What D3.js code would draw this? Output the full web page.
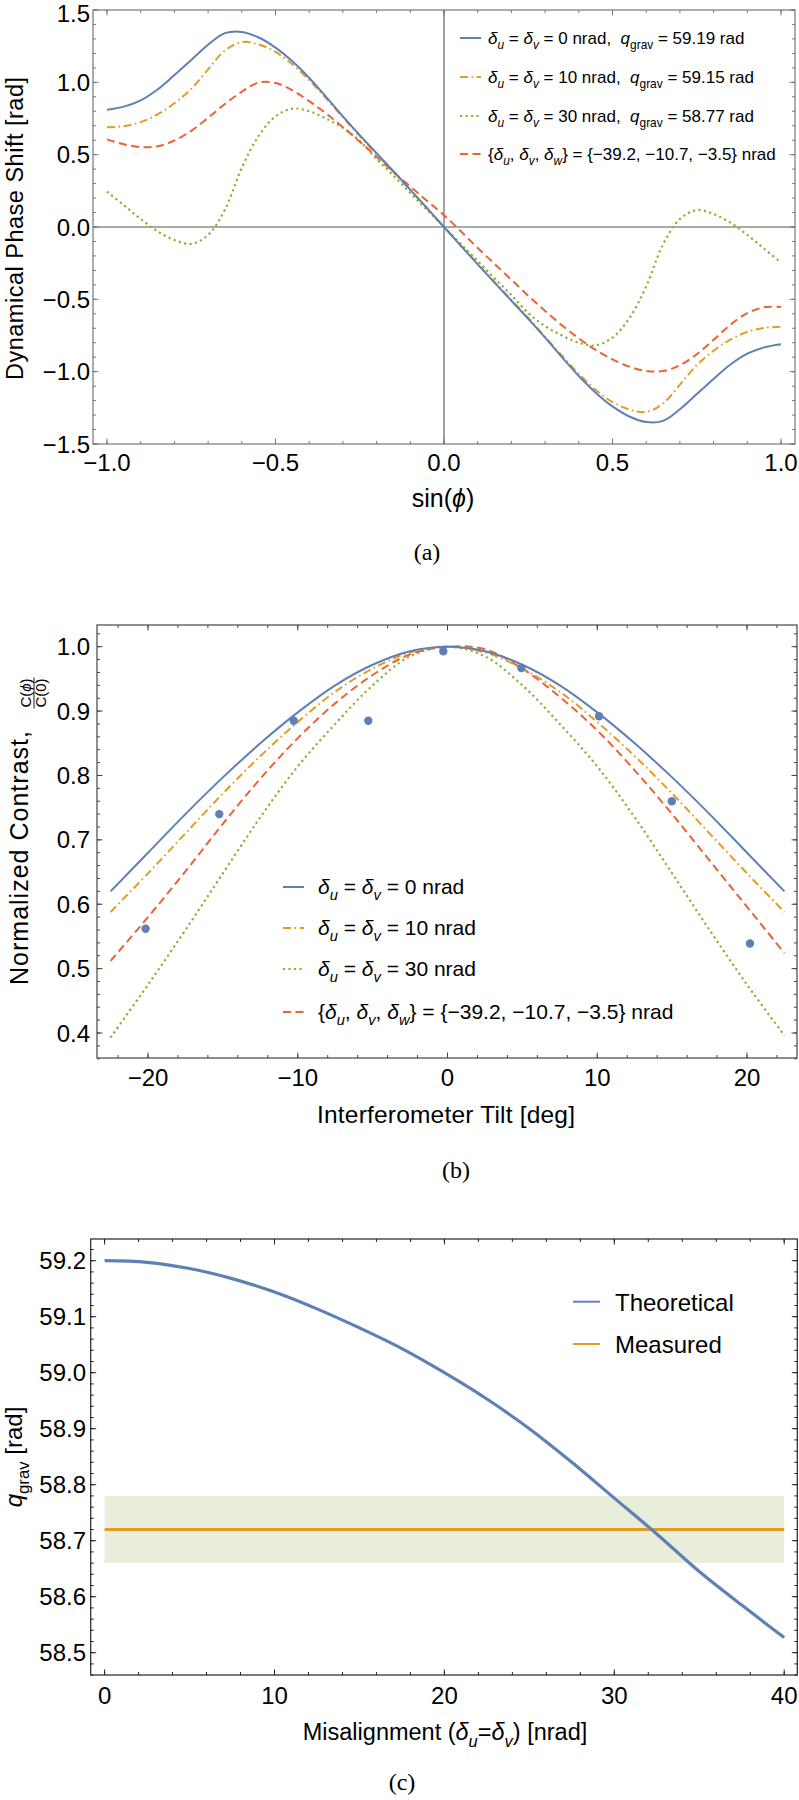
<!DOCTYPE html>
<html><head><meta charset="utf-8">
<script src="https://cdn.jsdelivr.net/npm/d3@7"></script>
<style>
body{margin:0;background:#fff;}
svg text{font-family:"Liberation Sans",Arial,Helvetica,sans-serif;fill:#000;white-space:pre;}
svg text.serif{font-family:"Liberation Serif","Times New Roman",serif;}
</style></head><body>
<svg id="fig" width="799" height="1800" xmlns="http://www.w3.org/2000/svg"></svg>
<script>
// ---------------- DATA ----------------
// Panel (a): dynamical phase shift vs sin(phi)
const aX = [-1.00,-0.95,-0.90,-0.85,-0.80,-0.75,-0.70,-0.65,-0.60,-0.55,-0.50,-0.45,-0.40,-0.35,-0.30,-0.25,-0.20,-0.15,-0.10,-0.05,0.00,0.05,0.10,0.15,0.20,0.25,0.30,0.35,0.40,0.45,0.50,0.55,0.60,0.65,0.70,0.75,0.80,0.85,0.90,0.95,1.00];
const aBlue = [0.810,0.832,0.875,0.950,1.050,1.155,1.260,1.340,1.348,1.310,1.240,1.145,1.030,0.900,0.765,0.635,0.510,0.385,0.258,0.130,0.000,-0.130,-0.258,-0.385,-0.510,-0.635,-0.765,-0.900,-1.030,-1.145,-1.240,-1.310,-1.348,-1.340,-1.260,-1.155,-1.050,-0.950,-0.875,-0.832,-0.810];
const aOrange = [0.690,0.697,0.725,0.778,0.855,0.955,1.090,1.220,1.278,1.262,1.210,1.125,1.015,0.890,0.758,0.628,0.503,0.380,0.254,0.127,0.000,-0.127,-0.254,-0.380,-0.503,-0.628,-0.758,-0.890,-1.015,-1.125,-1.210,-1.262,-1.278,-1.220,-1.090,-0.955,-0.855,-0.778,-0.725,-0.697,-0.690];
const aGreen = [0.245,0.150,0.055,-0.030,-0.090,-0.117,-0.055,0.120,0.410,0.630,0.765,0.818,0.800,0.750,0.685,0.595,0.470,0.355,0.235,0.118,0.000,-0.118,-0.235,-0.355,-0.470,-0.595,-0.685,-0.750,-0.800,-0.818,-0.765,-0.630,-0.410,-0.120,0.055,0.117,0.090,0.030,-0.055,-0.150,-0.245];
const aRed = [0.606,0.572,0.552,0.558,0.598,0.665,0.755,0.850,0.935,0.998,0.995,0.945,0.870,0.785,0.690,0.590,0.485,0.380,0.280,0.180,0.082,-0.030,-0.145,-0.255,-0.365,-0.475,-0.580,-0.680,-0.770,-0.850,-0.915,-0.965,-0.995,-0.995,-0.955,-0.880,-0.780,-0.675,-0.595,-0.555,-0.553];
const aXTicks = [-1, -0.5, 0, 0.5, 1];
const aXTickLabels = ["\u22121.0", "\u22120.5", "0.0", "0.5", "1.0"];
const aYTicks = [-1.5, -1, -0.5, 0, 0.5, 1, 1.5];
const aYTickLabels = ["\u22121.5", "\u22121.0", "\u22120.5", "0.0", "0.5", "1.0", "1.5"];
const aLegendValues = ["0", "10", "30"];
const aLegendQ = ["59.19", "59.15", "58.77"];

// Panel (b): normalized contrast vs interferometer tilt
const bX = [-22.5,-20,-17.5,-15,-12.5,-10,-7.5,-5,-2.5,0,2.5,5,7.5,10,12.5,15,17.5,20,22.5];
const bBlue = [0.620,0.680,0.740,0.797,0.850,0.898,0.940,0.972,0.993,1.000,0.993,0.972,0.940,0.898,0.850,0.797,0.740,0.680,0.620];
const bOrange = [0.588,0.648,0.710,0.772,0.830,0.883,0.930,0.966,0.991,1.000,0.991,0.966,0.930,0.883,0.830,0.772,0.710,0.648,0.588];
const bGreen = [0.393,0.475,0.560,0.648,0.735,0.814,0.880,0.940,0.985,1.000,0.985,0.940,0.880,0.814,0.735,0.648,0.560,0.475,0.396];
const bRed = [0.512,0.580,0.651,0.725,0.795,0.858,0.912,0.956,0.988,1.000,0.996,0.966,0.922,0.870,0.808,0.740,0.668,0.596,0.524];
const bPtX = [-20.16,-15.24,-10.27,-5.29,-0.28,4.93,10.12,14.98,20.2];
const bPtY = [0.562,0.740,0.885,0.885,0.993,0.967,0.892,0.760,0.539];
const bXTicks = [-20, -10, 0, 10, 20];
const bXTickLabels = ["\u221220", "\u221210", "0", "10", "20"];
const bYTicks = [0.4, 0.5, 0.6, 0.7, 0.8, 0.9, 1.0];
const bYTickLabels = ["0.4", "0.5", "0.6", "0.7", "0.8", "0.9", "1.0"];
const bLegendValues = ["0", "10", "30"];

// Panel (c): q_grav vs misalignment
const cX = [0,2.5,5,7.5,10,12.5,15,17.5,20,22.5,25,27.5,30,32.5,35,37.5,40];
const cTheory = [59.200,59.197,59.186,59.168,59.144,59.114,59.080,59.043,59.000,58.953,58.900,58.840,58.776,58.712,58.645,58.585,58.527];
const cMeasX = [0, 40];
const cMeasY = [58.72, 58.72];
const cBandLo = [58.66, 58.66];
const cBandHi = [58.78, 58.78];
const cXTicks = [0, 10, 20, 30, 40];
const cXTickLabels = ["0", "10", "20", "30", "40"];
const cYTicks = [58.5, 58.6, 58.7, 58.8, 58.9, 59.0, 59.1, 59.2];
const cYTickLabels = ["58.5", "58.6", "58.7", "58.8", "58.9", "59.0", "59.1", "59.2"];
const cLegend = ["Theoretical", "Measured"];

// ---------------- STYLE ----------------
const COL = {blue:"#5E81B5", orange:"#E19C24", green:"#8FB032", red:"#EB6235"};
const DASH = {blue:null, orange:"8,3.5,1.6,3.5", green:"2.2,3.3", red:"8,4.5"};
const WID = {blue:2, orange:2, green:2.2, red:2};

const svg = d3.select("#fig");

function rich(sel, x, y, parts, size, anchor) {
  const t = sel.append("text").attr("x", x).attr("y", y)
    .attr("font-size", size).attr("text-anchor", anchor || "start");
  let shift = 0;
  parts.forEach(p => {
    const sp = t.append("tspan").text(p.t);
    const target = p.sub ? size * 0.28 : 0;
    if (target !== shift) { sp.attr("dy", target - shift); shift = target; }
    if (p.sub) sp.attr("font-size", size * 0.7);
    if (p.i) sp.attr("font-style", "italic");
  });
  return t;
}

function frame(g, o) {
  g.append("rect").attr("x", o.x0).attr("y", o.y0)
    .attr("width", o.x1 - o.x0).attr("height", o.y1 - o.y0)
    .attr("fill", "none").attr("stroke", o.color).attr("stroke-width", 1.2);
  const tk = g.append("g").attr("stroke", o.color).attr("stroke-width", 1);
  const addX = (vals, len) => vals.forEach(v => {
    const x = o.xs(v);
    tk.append("line").attr("x1", x).attr("x2", x).attr("y1", o.y1).attr("y2", o.y1 - len);
    tk.append("line").attr("x1", x).attr("x2", x).attr("y1", o.y0).attr("y2", o.y0 + len);
  });
  const addY = (vals, len) => vals.forEach(v => {
    const y = o.ys(v);
    tk.append("line").attr("y1", y).attr("y2", y).attr("x1", o.x0).attr("x2", o.x0 + len);
    tk.append("line").attr("y1", y).attr("y2", y).attr("x1", o.x1).attr("x2", o.x1 - len);
  });
  addX(o.xMinor, 3); addX(o.xMajor, 5.5);
  addY(o.yMinor, 3); addY(o.yMajor, 5.5);
  o.xMajor.forEach((v, i) => {
    g.append("text").attr("x", o.xs(v)).attr("y", o.xLabY).attr("text-anchor", "middle")
      .attr("font-size", o.font).text(o.xLab[i]);
  });
  o.yMajor.forEach((v, i) => {
    const yy = Math.max(o.ys(v) + o.font * 0.36, o.font * 0.93);
    g.append("text").attr("x", o.yLabX).attr("y", yy).attr("text-anchor", "end")
      .attr("font-size", o.font).text(o.yLab[i]);
  });
}

function minor(lo, hi, step) {
  const n = Math.round((hi - lo) / step);
  const out = [];
  for (let i = 0; i <= n; i++) out.push(+(lo + i * step).toFixed(6));
  return out;
}

function series(g, xs, ys, X, Y, color, dash, width) {
  const line = d3.line().x((d, i) => xs(X[i])).y(d => ys(d)).curve(d3.curveCatmullRom.alpha(0.5));
  const p = g.append("path").attr("d", line(Y)).attr("fill", "none")
    .attr("stroke", color).attr("stroke-width", width || 2);
  if (dash) p.attr("stroke-dasharray", dash);
  return p;
}

function legendParts(i, vals, q) {
  if (i < 3) {
    const p = [{t: "\u03B4", i: true}, {t: "u", i: true, sub: true}, {t: " = "}, {t: "\u03B4", i: true}, {t: "v", i: true, sub: true}];
    if (q) {
      p.push({t: " = " + vals[i] + " nrad,  "}, {t: "q", i: true}, {t: "grav", sub: true}, {t: " = " + q[i] + " rad"});
    } else {
      p.push({t: " = " + vals[i] + " nrad"});
    }
    return p;
  }
  return [{t: "{"}, {t: "\u03B4", i: true}, {t: "u", i: true, sub: true}, {t: ", "}, {t: "\u03B4", i: true}, {t: "v", i: true, sub: true},
    {t: ", "}, {t: "\u03B4", i: true}, {t: "w", i: true, sub: true}, {t: "} = {\u221239.2, \u221210.7, \u22123.5} nrad"}];
}

// ---------------- PANEL (a) ----------------
{
  const g = svg.append("g");
  const xs = d3.scaleLinear().domain([-1, 1]).range([107, 781]);
  const ys = d3.scaleLinear().domain([-1.5, 1.5]).range([444, 10]);
  const box = {x0: 93, x1: 795, y0: 10, y1: 444};
  g.append("line").attr("x1", xs(0)).attr("x2", xs(0)).attr("y1", box.y0).attr("y2", box.y1)
    .attr("stroke", "#555").attr("stroke-width", 1.1);
  g.append("line").attr("x1", box.x0).attr("x2", box.x1).attr("y1", ys(0)).attr("y2", ys(0))
    .attr("stroke", "#555").attr("stroke-width", 1.1);
  series(g, xs, ys, aX, aGreen, COL.green, DASH.green, WID.green);
  series(g, xs, ys, aX, aRed, COL.red, DASH.red, WID.red);
  series(g, xs, ys, aX, aOrange, COL.orange, DASH.orange, WID.orange);
  series(g, xs, ys, aX, aBlue, COL.blue, DASH.blue, WID.blue);
  frame(g, Object.assign({}, box, {xs, ys, xMajor: aXTicks, xMinor: minor(-1, 1, 0.1),
    yMajor: aYTicks, yMinor: minor(-1.5, 1.5, 0.1), color: "#777",
    xLab: aXTickLabels, yLab: aYTickLabels, font: 24, xLabY: 471, yLabX: 90}));
  rich(g, 443, 507, [{t: "sin("}, {t: "\u03D5", i: true}, {t: ")"}], 25, "middle");
  g.append("text").attr("transform", "translate(22.5,228.5) rotate(-90)").attr("text-anchor", "middle")
    .attr("font-size", 23.5).attr("textLength", 303).attr("lengthAdjust", "spacing")
    .text("Dynamical Phase Shift [rad]");
  g.append("text").attr("class", "serif").attr("x", 427).attr("y", 560).attr("text-anchor", "middle")
    .attr("font-size", 24).text("(a)");
  const keys = ["blue", "orange", "green", "red"];
  const rowsY = [38, 77, 116, 154];
  keys.forEach((k, i) => {
    const l = g.append("line").attr("x1", 460).attr("x2", 481).attr("y1", rowsY[i]).attr("y2", rowsY[i])
      .attr("stroke", COL[k]).attr("stroke-width", WID[k]);
    if (DASH[k]) l.attr("stroke-dasharray", DASH[k]);
    rich(g, 488, rowsY[i] + 6, legendParts(i, aLegendValues, aLegendQ), 17, "start");
  });
}

// ---------------- PANEL (b) ----------------
{
  const g = svg.append("g");
  const xs = d3.scaleLinear().domain([-20, 20]).range([148, 747]);
  const ys = d3.scaleLinear().domain([0.4, 1.0]).range([1033, 646.7]);
  const box = {x0: 97, x1: 797, y0: 625, y1: 1058};
  series(g, xs, ys, bX, bGreen, COL.green, DASH.green, WID.green);
  series(g, xs, ys, bX, bRed, COL.red, DASH.red, WID.red);
  series(g, xs, ys, bX, bOrange, COL.orange, DASH.orange, WID.orange);
  series(g, xs, ys, bX, bBlue, COL.blue, DASH.blue, WID.blue);
  g.selectAll("circle.pt").data(bPtY).enter().append("circle").attr("class", "pt")
    .attr("cx", (d, i) => xs(bPtX[i])).attr("cy", d => ys(d)).attr("r", 4.2).attr("fill", COL.blue);
  frame(g, Object.assign({}, box, {xs, ys, xMajor: bXTicks, xMinor: minor(-22, 22, 2),
    yMajor: bYTicks, yMinor: minor(0.36, 1.02, 0.02), color: "#444",
    xLab: bXTickLabels, yLab: bYTickLabels, font: 24, xLabY: 1086, yLabX: 90}));
  g.append("text").attr("x", 446).attr("y", 1123).attr("text-anchor", "middle")
    .attr("font-size", 24.5).attr("textLength", 258).attr("lengthAdjust", "spacing")
    .text("Interferometer Tilt [deg]");
  const yl = g.append("g").attr("transform", "translate(28,985) rotate(-90)");
  yl.append("text").attr("x", 0).attr("y", 0).attr("font-size", 25)
    .attr("textLength", 254).attr("lengthAdjust", "spacing").text("Normalized Contrast,");
  const fc = 292;
  const num = yl.append("text").attr("x", fc).attr("y", 3).attr("font-size", 15).attr("text-anchor", "middle");
  num.append("tspan").text("C(");
  num.append("tspan").attr("font-style", "italic").text("\u03D5");
  num.append("tspan").text(")");
  const den = yl.append("text").attr("x", fc).attr("y", 17.5).attr("font-size", 15)
    .attr("text-anchor", "middle").text("C(0)");
  const fw = Math.max(num.node().getComputedTextLength(), den.node().getComputedTextLength()) + 2;
  yl.append("line").attr("x1", fc - fw / 2).attr("x2", fc + fw / 2).attr("y1", 6).attr("y2", 6)
    .attr("stroke", "#000").attr("stroke-width", 0.9);
  g.append("text").attr("class", "serif").attr("x", 456).attr("y", 1178).attr("text-anchor", "middle")
    .attr("font-size", 24).text("(b)");
  const keys = ["blue", "orange", "green", "red"];
  const rowsY = [887, 928, 969, 1012];
  keys.forEach((k, i) => {
    const l = g.append("line").attr("x1", 283).attr("x2", 304).attr("y1", rowsY[i]).attr("y2", rowsY[i])
      .attr("stroke", COL[k]).attr("stroke-width", WID[k]);
    if (DASH[k]) l.attr("stroke-dasharray", DASH[k]);
    rich(g, 318, rowsY[i] + 7, legendParts(i, bLegendValues, null), 21, "start");
  });
}

// ---------------- PANEL (c) ----------------
{
  const g = svg.append("g");
  const xs = d3.scaleLinear().domain([0, 40]).range([104.6, 784.2]);
  const ys = d3.scaleLinear().domain([58.5, 59.2]).range([1652.7, 1260.7]);
  const box = {x0: 90.7, x1: 797.3, y0: 1239, y1: 1675};
  const area = d3.area().x((d, i) => xs(cMeasX[i])).y0((d, i) => ys(cBandLo[i])).y1(d => ys(d));
  g.append("path").attr("d", area(cBandHi)).attr("fill", "#e8eed9");
  series(g, xs, ys, cMeasX, cMeasY, COL.orange, null, 3.2);
  series(g, xs, ys, cX, cTheory, COL.blue, null, 3.2);
  frame(g, Object.assign({}, box, {xs, ys, xMajor: cXTicks, xMinor: minor(0, 40, 2),
    yMajor: cYTicks, yMinor: minor(58.46, 59.22, 0.02), color: "#222",
    xLab: cXTickLabels, yLab: cYTickLabels, font: 24, xLabY: 1704, yLabX: 86}));
  rich(g, 445, 1740, [{t: "Misalignment ("}, {t: "\u03B4", i: true}, {t: "u", i: true, sub: true}, {t: "="},
    {t: "\u03B4", i: true}, {t: "v", i: true, sub: true}, {t: ") [nrad]"}], 23.5, "middle");
  const yl = g.append("g").attr("transform", "translate(22,1457) rotate(-90)");
  rich(yl, 0, 0, [{t: "q", i: true}, {t: "grav", sub: true}, {t: " [rad]"}], 24, "middle");
  g.append("text").attr("class", "serif").attr("x", 402).attr("y", 1790).attr("text-anchor", "middle")
    .attr("font-size", 24).text("(c)");
  const lc = [COL.blue, COL.orange];
  const ly = [1301.7, 1344];
  cLegend.forEach((s, i) => {
    g.append("line").attr("x1", 573).attr("x2", 600).attr("y1", ly[i]).attr("y2", ly[i])
      .attr("stroke", lc[i]).attr("stroke-width", 2);
    g.append("text").attr("x", 615).attr("y", ly[i] + 9).attr("font-size", 24).text(s);
  });
}
</script></body></html>
